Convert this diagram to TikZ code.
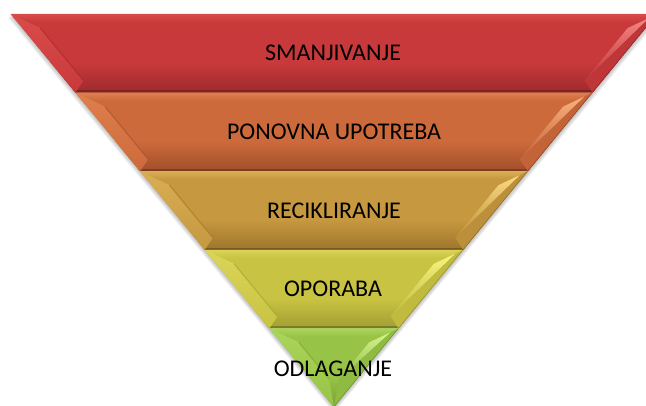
\documentclass[tikz,border=0pt]{standalone}
\usepackage{fontspec}
\setmainfont{Carlito}
\definecolor{redM}{HTML}{C8393B}\definecolor{redL}{HTML}{DA4C4A}\definecolor{redD}{HTML}{A02B2D}\definecolor{redE}{HTML}{7E2222}\definecolor{redH}{HTML}{F58482}
\definecolor{oraM}{HTML}{CD6A3C}\definecolor{oraL}{HTML}{DE7F4C}\definecolor{oraD}{HTML}{A3502B}\definecolor{oraE}{HTML}{7E3B20}\definecolor{oraH}{HTML}{FAB07E}
\definecolor{golM}{HTML}{C6983F}\definecolor{golL}{HTML}{D8AE55}\definecolor{golD}{HTML}{A0772D}\definecolor{golE}{HTML}{7A5A20}\definecolor{golH}{HTML}{FCD982}
\definecolor{ygM}{HTML}{C9C343}\definecolor{ygL}{HTML}{DAD558}\definecolor{ygD}{HTML}{A4A033}\definecolor{ygE}{HTML}{7E7B25}\definecolor{ygH}{HTML}{F8F480}
\definecolor{grM}{HTML}{97C346}\definecolor{grL}{HTML}{AAD55A}\definecolor{grD}{HTML}{7AA437}\definecolor{grE}{HTML}{5E8228}\definecolor{grH}{HTML}{D6F48E}
\newcommand\cxv{334}
\newcommand\kv{0.8225}
\newcommand\ybv{407}
% #1 top, #2 bottom, #3 colour prefix
\newcommand\drawband[3]{%
  \pgfmathsetmacro\olt{\cxv-\kv*(\ybv-#1)}%
  \pgfmathsetmacro\ort{\cxv+\kv*(\ybv-#1)}%
  \pgfmathsetmacro\olb{\cxv-\kv*(\ybv-#2)}%
  \pgfmathsetmacro\orb{\cxv+\kv*(\ybv-#2)}%
  \pgfmathsetmacro\yit{#1+14}%
  \pgfmathsetmacro\yib{min(#2-12,\ybv-18/\kv-6)}%
  \pgfmathsetmacro\itl{\cxv-\kv*(\ybv-\yit)+18}%
  \pgfmathsetmacro\itr{\cxv+\kv*(\ybv-\yit)-18}%
  \pgfmathsetmacro\ibl{min(\cxv,\cxv-\kv*(\ybv-\yib)+18)}%
  \pgfmathsetmacro\ibr{max(\cxv,\cxv+\kv*(\ybv-\yib)-18)}%
  \pgfmathsetmacro\hx{\cxv+\kv*(\ybv-#1-4)-5}%
  \begin{scope}
    \clip (\olt,#1) -- (\ort,#1) -- (\orb,#2) -- (\olb,#2) -- cycle;
    \fill[#3M] (0,#1) rectangle (700,#2);
    \shade[top color=#3L, bottom color=#3M] (0,#1) rectangle (700,#1+8);
    \shade[top color=#3M, bottom color=#3D] (0,#2-30) rectangle (700,#2-2);
    \fill[#3E] (0,#2-2.2) rectangle (700,#2);
    % left facet
    \shade[top color=#3L, bottom color=#3M] (\olt,#1) -- (\itl,\yit) -- (\ibl,\yib) -- (\olb,#2) -- cycle;
    \draw[#3D, line width=1.2pt, opacity=0.6] (\itl,\yit) -- (\ibl,\yib);
    % right facet
    \fill[#3M!75!#3D] (\ort,#1) -- (\itr,\yit) -- (\ibr,\yib) -- (\orb,#2) -- cycle;
    \shade[top color=#3H, bottom color=#3M!75!#3D] (\itr,\yit) -- (\hx,#1+4) -- (\ibr,\yib) -- cycle;
    \draw[#3E, line width=1pt, opacity=0.7] (\ort,#1) -- (\orb,#2);
  \end{scope}
}
\begin{document}
\begin{tikzpicture}[x=1pt,y=-1pt,
  lbl/.style={font=\fontsize{24}{28}\selectfont, text=black, inner sep=0pt}]
\useasboundingbox (0,0) rectangle (646,406);
% soft shadow
\foreach \s in {1,2,3,4,5}{
  \fill[black, opacity=0.05] (11-\s*0.6,14+\s*0.8) -- (657+\s*0.6,14+\s*0.8) -- (334,407+\s*1.2) -- cycle;
}
\drawband{14}{92.6}{red}
\drawband{92.6}{171.2}{ora}
\drawband{171.2}{249.8}{gol}
\drawband{249.8}{328.4}{yg}
\drawband{328.4}{407}{gr}
\node[lbl] (t1) at (333,53) {SMANJIVANJE};
\node[lbl] (t2) at (334,132) {PONOVNA UPOTREBA};
\node[lbl] (t3) at (334,211) {RECIKLIRANJE};
\node[lbl] (t4) at (333,289) {OPORABA};
\node[lbl] (t5) at (333,369) {ODLAGANJE};
\end{tikzpicture}
\end{document}
